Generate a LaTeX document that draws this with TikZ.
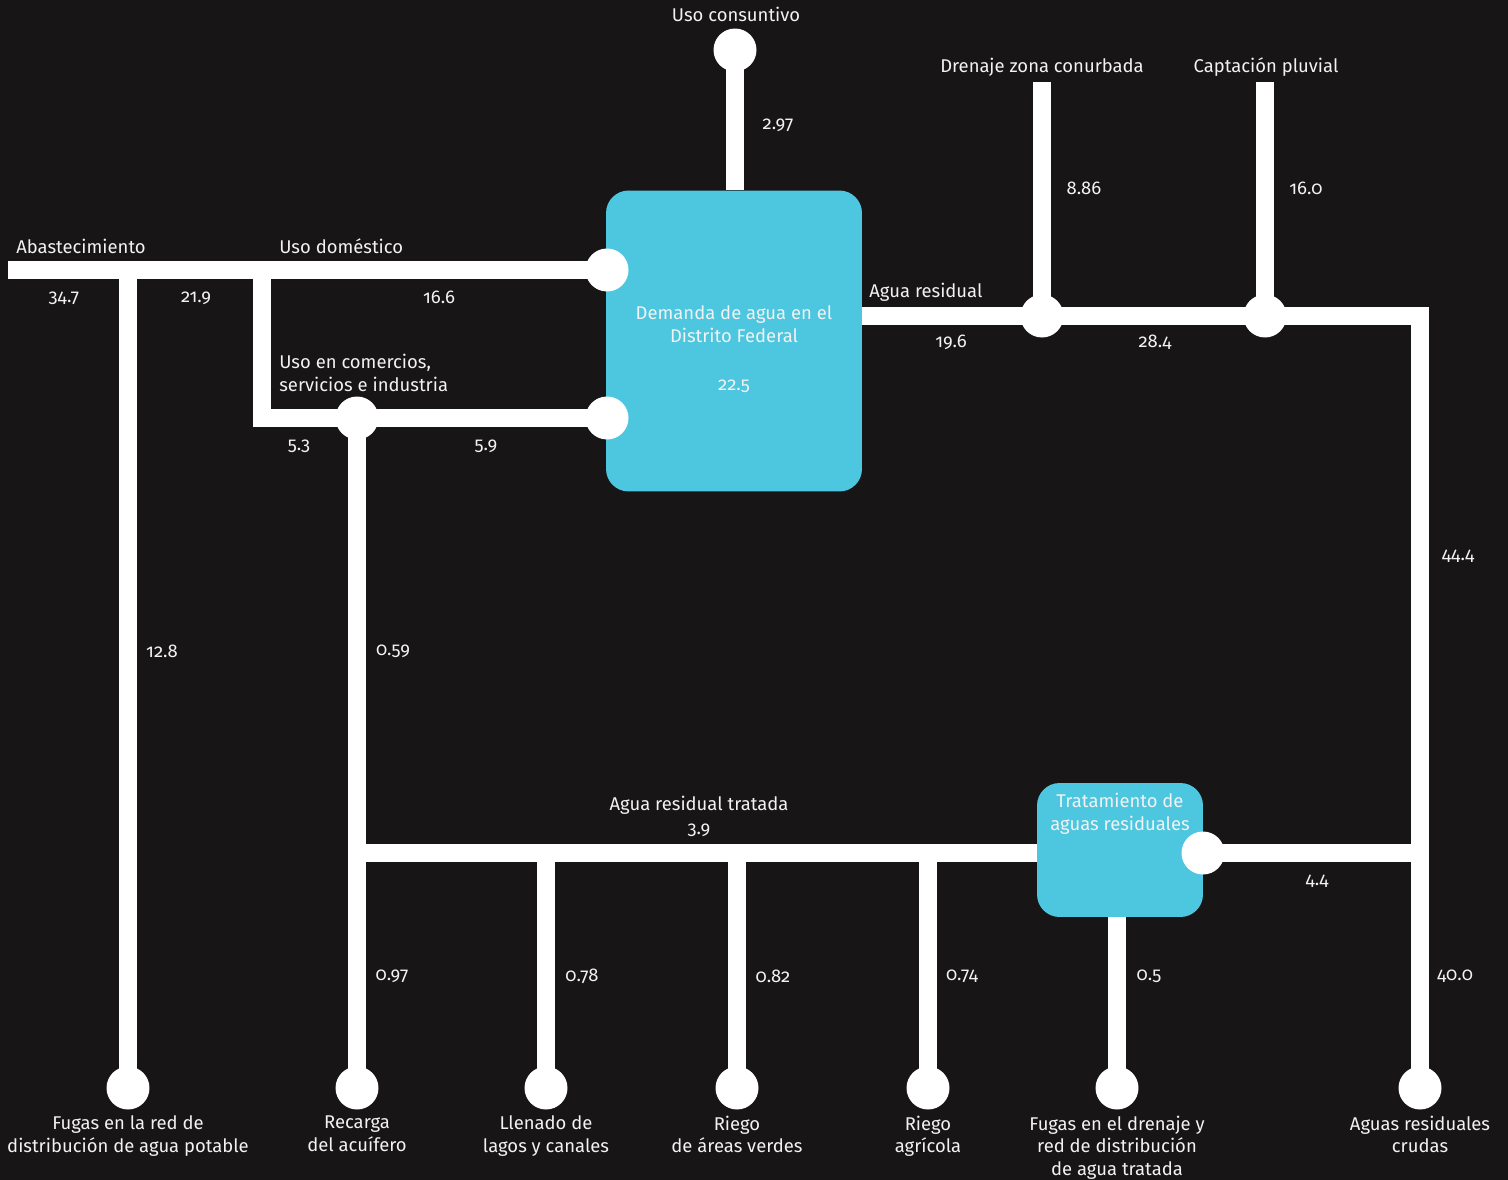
\documentclass[tikz,border=0pt]{standalone}
\usepackage{fontspec}
\setmainfont[Numbers=OldStyle]{Fira Sans}
\usetikzlibrary{positioning}
\definecolor{fondo}{HTML}{171515}
\definecolor{cian}{HTML}{4DC6E0}
\definecolor{blanco}{HTML}{F2F2F2}
\pgfdeclarelayer{fondo}
\pgfdeclarelayer{tubos}
\pgfsetlayers{fondo,tubos,main}

\begin{document}
\begin{tikzpicture}[
    x=0.02cm, y=-0.02cm,
    tubo/.style={draw=white, line width=3.6mm, line join=miter},
    nudo/.style={circle, fill=white, minimum size=8.6mm, inner sep=0pt},
    caja/.style={fill=cian, rounded corners=4.5mm, inner sep=0pt},
    texto/.style={text=blanco, align=center, inner sep=0pt,
      font=\fontsize{10.5}{13}\selectfont},
    cifra/.style={texto}
  ]
  \begin{pgfonlayer}{fondo}
    \fill[fondo] (0,0) rectangle (1508,1180);
  \end{pgfonlayer}
  \useasboundingbox (0,0) rectangle (1508,1180);

  % cajas
  \node[caja, minimum width=5.12cm, minimum height=6.02cm] (demanda) at (734,341) {};
  \node[texto] (dem-txt) at (734,349)
    {Demanda de agua en el\\Distrito Federal\\[5mm]22.5};
  \node[caja, minimum width=3.32cm, minimum height=2.68cm] (trat) at (1120,850) {};
  \node[texto, below=2.1mm of trat.north] (trat-txt) {Tratamiento de\\aguas residuales};

  % nudos
  \node[nudo] (dom) at (607,270) {};
  \node[nudo] (com) at (607,418) {};
  \node[nudo] (jcom) at (357,418) {};
  \node[nudo] (cons) at (735,50) {};
  \node[nudo] (dren) at (1042,316) {};
  \node[nudo] (capt) at (1265,316) {};
  \node[nudo] (salida) at (1203,853) {};

  % destinos
  \foreach \x/\n/\txt in {
      128/fugas/{Fugas en la red de\\distribución de agua potable},
      357/recarga/{Recarga\\del acuífero},
      546/llenado/{Llenado de\\lagos y canales},
      737/verdes/{Riego\\de áreas verdes},
      928/agricola/{Riego\\agrícola},
      1117/fugdren/{Fugas en el drenaje y\\red de distribución\\de agua tratada},
      1420/crudas/{Aguas residuales\\crudas}} {
    \node[nudo] (\n) at (\x,1088) {};
    \node[texto, below=1.1mm of \n] (\n-txt) {\txt};
  }

  \coordinate (abas) at (8,270);
  \coordinate (ramal1) at (128,270);
  \coordinate (ramal2) at (262,270);
  \coordinate (esq) at (262,418);
  \coordinate (dren-arr) at (1042,82);
  \coordinate (capt-arr) at (1265,82);
  \coordinate (esq2) at (1420,316);

  \begin{pgfonlayer}{tubos}
    \draw[tubo] (abas) -- (dom.center);
    \draw[tubo] (ramal1) -- (fugas.center);
    \draw[tubo] (ramal2) -- (esq) -- (com.center);
    \draw[tubo] (jcom.center) -- (recarga.center);
    \draw[tubo] (cons.center) -- (cons |- demanda.north);
    \draw[tubo] (demanda.east |- dren) -- (esq2) -- (crudas.center);
    \draw[tubo] (dren-arr) -- (dren.center);
    \draw[tubo] (capt-arr) -- (capt.center);
    \draw[tubo] (recarga |- salida) -- (salida.center) -- (crudas |- salida);
    \foreach \n in {llenado, verdes, agricola}
      \draw[tubo] (\n |- salida) -- (\n.center);
    \draw[tubo] (fugdren |- trat.south) -- (fugdren.center);
  \end{pgfonlayer}

  % nombres
  \node[texto] (t-cons) at (736,14) {Uso consuntivo};
  \node[texto] (t-dren) at (1042,67) {Drenaje zona conurbada};
  \node[texto] (t-capt) at (1266,67) {Captación pluvial};
  \node[texto, anchor=west] (t-abas) at (16,246) {Abastecimiento};
  \node[texto, anchor=west] (t-dom) at (279,246) {Uso doméstico};
  \node[texto, anchor=west, align=left] (t-com) at (279,373)
    {Uso en comercios,\\servicios e industria};
  \node[texto, anchor=west] (t-res) at (869,292) {Agua residual};
  \node[texto] (t-trat) at (699,805) {Agua residual tratada};

  % caudales
  \foreach \x/\y/\v [count=\i] in {778/125/2.97, 1084/188/8.86, 1306/188/16.0,
      64/298/34.7, 196/298/21.9, 439/297/16.6, 299/446/5.3, 486/446/5.9,
      951/342/19.6, 1155/342/28.4, 1458/556/44.4, 162/651/12.8, 393/651/0.59,
      699/830/3.9, 1317/881/4.4, 392/976/0.97, 582/976/0.78, 773/976/0.82,
      962/976/0.74, 1149/976/0.5, 1455/976/40.0}
    \node[cifra] (c-\i) at (\x,\y) {\v};
\end{tikzpicture}
\end{document}
